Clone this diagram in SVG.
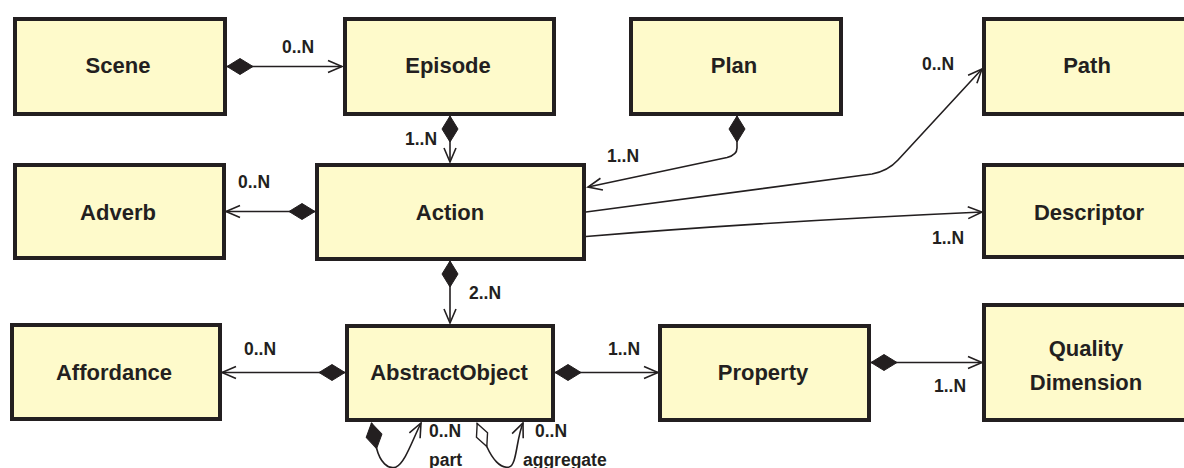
<svg xmlns="http://www.w3.org/2000/svg" width="1184" height="468" viewBox="0 0 1184 468">
  <style>
    .box { fill: #fefacb; stroke: #231f20; stroke-width: 4; }
    .name { font-family: "Liberation Sans", Arial, sans-serif; font-weight: bold; font-size: 22px; fill: #231f20; text-anchor: middle; }
    .mult { font-family: "Liberation Sans", Arial, sans-serif; font-weight: bold; font-size: 17.5px; fill: #231f20; }
    .link { fill: none; stroke: #231f20; stroke-width: 1.6; }
  </style>
  <defs>
    <!-- open navigable arrow head -->
    <marker id="arrow" markerUnits="userSpaceOnUse" viewBox="-16 -8 18 16" refX="0" refY="0" markerWidth="18" markerHeight="16" orient="auto">
      <path d="M-14,-6 L0,0 L-14,6" fill="none" stroke="#231f20" stroke-width="1.6"/>
    </marker>
    <!-- composition (filled diamond) -->
    <marker id="comp" markerUnits="userSpaceOnUse" viewBox="-1 -9 28 18" refX="0" refY="0" markerWidth="28" markerHeight="18" orient="auto">
      <path d="M0,0 L13,-8 L26,0 L13,8 Z" fill="#231f20" stroke="#231f20" stroke-width="1"/>
    </marker>
    <!-- aggregation (hollow diamond) -->
    <marker id="aggr" markerUnits="userSpaceOnUse" viewBox="-1 -9 28 18" refX="0" refY="0" markerWidth="28" markerHeight="18" orient="auto">
      <path d="M0.5,0 L13,-6 L25.5,0 L13,6 Z" fill="#ffffff" stroke="#231f20" stroke-width="1.4"/>
    </marker>
  </defs>

  <rect width="1184" height="468" fill="#ffffff"/>

  <!-- associations -->
  <g id="connectors">
    <path class="link" d="M227,66.5 L342,66.5" marker-start="url(#comp)" marker-end="url(#arrow)"/>
    <path class="link" d="M450,116 L450,162" marker-start="url(#comp)" marker-end="url(#arrow)"/>
    <path class="link" d="M737,116 L737,148 Q737,155 727,157.5 L588,187" marker-start="url(#comp)" marker-end="url(#arrow)"/>
    <path class="link" d="M586,212 L872,174 Q888,171 898,160 L982,69" marker-end="url(#arrow)"/>
    <path class="link" d="M586,236.5 Q760,222 982,212" marker-end="url(#arrow)"/>
    <path class="link" d="M315,211.5 L226,211.5" marker-start="url(#comp)" marker-end="url(#arrow)"/>
    <path class="link" d="M450,261 L450,323" marker-start="url(#comp)" marker-end="url(#arrow)"/>
    <path class="link" d="M345,372.5 L222,372.5" marker-start="url(#comp)" marker-end="url(#arrow)"/>
    <path class="link" d="M555,372.5 L658,372.5" marker-start="url(#comp)" marker-end="url(#arrow)"/>
    <path class="link" d="M871,362.5 L982,362.5" marker-start="url(#comp)" marker-end="url(#arrow)"/>
    <!-- reflexive part / aggregate links under AbstractObject -->
    <path class="link" d="M371.5,423 L376.5,448 C380,462 388,470 396,467 C405,463 412,441 421,423" marker-start="url(#comp)" marker-end="url(#arrow)"/>
    <path class="link" d="M477,423 L487,447 C492,458 500,469 509,467 C517,465 516,440 523,423" marker-start="url(#aggr)" marker-end="url(#arrow)"/>

    <text class="mult" x="282" y="53">0..N</text>
    <text class="mult" x="405" y="145">1..N</text>
    <text class="mult" x="607" y="162">1..N</text>
    <text class="mult" x="922" y="70">0..N</text>
    <text class="mult" x="932" y="244">1..N</text>
    <text class="mult" x="238" y="188">0..N</text>
    <text class="mult" x="469" y="299">2..N</text>
    <text class="mult" x="244" y="355">0..N</text>
    <text class="mult" x="608" y="355">1..N</text>
    <text class="mult" x="934" y="392">1..N</text>
    <text class="mult" x="429" y="437">0..N</text>
    <text class="mult" x="429" y="466">part</text>
    <text class="mult" x="535" y="437">0..N</text>
    <text class="mult" x="523" y="466">aggregate</text>
  </g>

  <g id="scene"><rect class="box" x="15" y="19" width="210" height="95"/><text class="name" x="118" y="73">Scene</text></g>
  <g id="episode"><rect class="box" x="345" y="19" width="209" height="95"/><text class="name" x="448" y="73">Episode</text></g>
  <g id="plan"><rect class="box" x="631" y="19" width="210" height="95"/><text class="name" x="734" y="73">Plan</text></g>
  <g id="path"><rect class="box" x="984" y="19" width="210" height="95"/><text class="name" x="1087" y="73">Path</text></g>

  <g id="adverb"><rect class="box" x="15" y="165" width="209" height="93"/><text class="name" x="118" y="220">Adverb</text></g>
  <g id="action"><rect class="box" x="317" y="165" width="267" height="94"/><text class="name" x="450" y="220">Action</text></g>
  <g id="descriptor"><rect class="box" x="984" y="165" width="210" height="92"/><text class="name" x="1089" y="220">Descriptor</text></g>

  <g id="affordance"><rect class="box" x="12" y="325" width="208" height="94"/><text class="name" x="114" y="380">Affordance</text></g>
  <g id="abstractobject"><rect class="box" x="347" y="326" width="206" height="94"/><text class="name" x="449" y="380">AbstractObject</text></g>
  <g id="property"><rect class="box" x="660" y="326" width="209" height="94"/><text class="name" x="763" y="380">Property</text></g>
  <g id="qualitydimension"><rect class="box" x="984" y="305" width="210" height="115"/><text class="name" x="1086" y="356">Quality</text><text class="name" x="1086" y="390">Dimension</text></g>
</svg>
